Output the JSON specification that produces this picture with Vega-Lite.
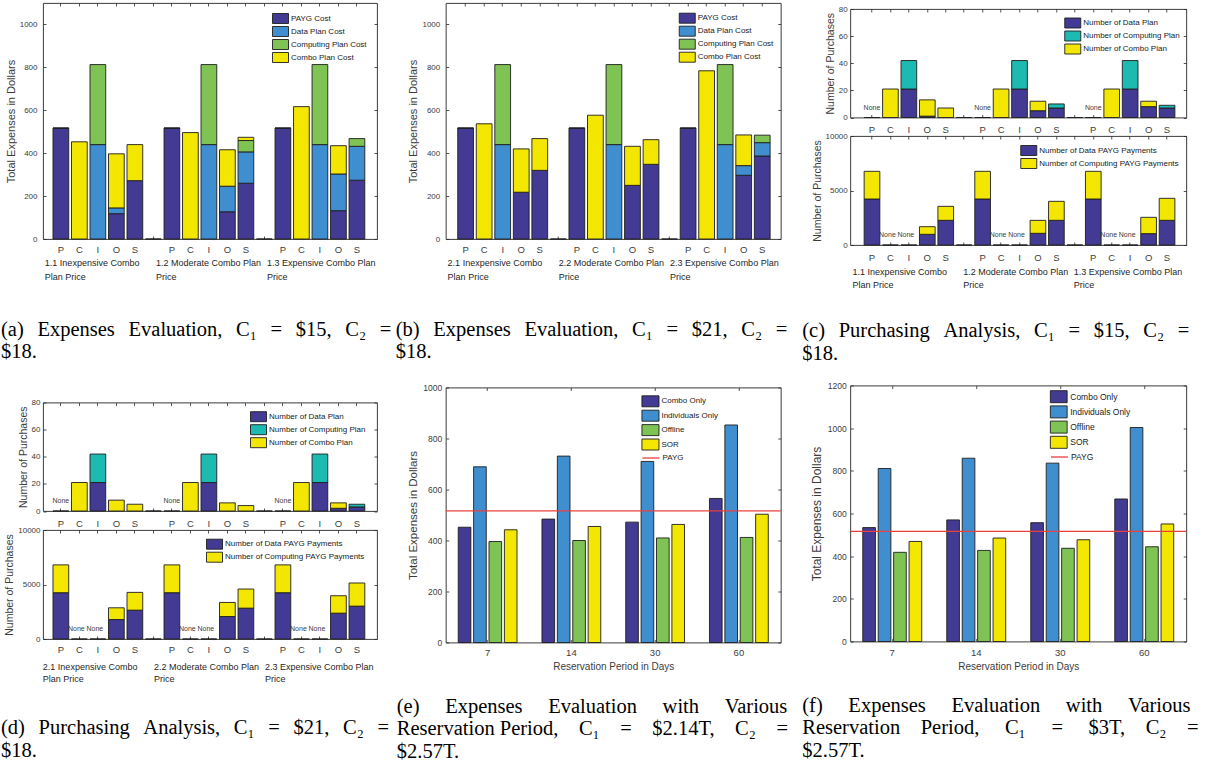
{
  "padding": {"left": 0, "top": 2, "right": 0, "bottom": 0},
  "autosize": "pad",
  "spacing": 12.25,
  "resolve": {"scale": {"color": "independent", "stroke": "independent", "xOffset": "independent"}},
  "datasets": {
    "a": [
      {"slot":"1.1 P","seg":"PAYG Cost","v":517},{"slot":"1.1 P","seg":"Combo Plan Cost","v":0},
      {"slot":"1.1 C","seg":"Combo Plan Cost","v":453},
      {"slot":"1.1 I","seg":"Data Plan Cost","v":440},{"slot":"1.1 I","seg":"Computing Plan Cost","v":373},
      {"slot":"1.1 O","seg":"PAYG Cost","v":118},{"slot":"1.1 O","seg":"Data Plan Cost","v":27},{"slot":"1.1 O","seg":"Combo Plan Cost","v":252},
      {"slot":"1.1 S","seg":"PAYG Cost","v":272},{"slot":"1.1 S","seg":"Combo Plan Cost","v":168},
      {"slot":"g1","seg":"PAYG Cost","v":0},
      {"slot":"1.2 P","seg":"PAYG Cost","v":517},{"slot":"1.2 P","seg":"Combo Plan Cost","v":0},
      {"slot":"1.2 C","seg":"Combo Plan Cost","v":496},
      {"slot":"1.2 I","seg":"Data Plan Cost","v":440},{"slot":"1.2 I","seg":"Computing Plan Cost","v":373},
      {"slot":"1.2 O","seg":"PAYG Cost","v":127},{"slot":"1.2 O","seg":"Data Plan Cost","v":119},{"slot":"1.2 O","seg":"Combo Plan Cost","v":170},
      {"slot":"1.2 S","seg":"PAYG Cost","v":260},{"slot":"1.2 S","seg":"Data Plan Cost","v":146},{"slot":"1.2 S","seg":"Computing Plan Cost","v":53},{"slot":"1.2 S","seg":"Combo Plan Cost","v":15},
      {"slot":"g2","seg":"PAYG Cost","v":0},
      {"slot":"1.3 P","seg":"PAYG Cost","v":517},{"slot":"1.3 P","seg":"Combo Plan Cost","v":0},
      {"slot":"1.3 C","seg":"Combo Plan Cost","v":617},
      {"slot":"1.3 I","seg":"Data Plan Cost","v":440},{"slot":"1.3 I","seg":"Computing Plan Cost","v":373},
      {"slot":"1.3 O","seg":"PAYG Cost","v":132},{"slot":"1.3 O","seg":"Data Plan Cost","v":171},{"slot":"1.3 O","seg":"Combo Plan Cost","v":132},
      {"slot":"1.3 S","seg":"PAYG Cost","v":274},{"slot":"1.3 S","seg":"Data Plan Cost","v":158},{"slot":"1.3 S","seg":"Computing Plan Cost","v":36}
    ],
    "b": [
      {"slot":"2.1 P","seg":"PAYG Cost","v":517},{"slot":"2.1 P","seg":"Combo Plan Cost","v":0},
      {"slot":"2.1 C","seg":"Combo Plan Cost","v":537},
      {"slot":"2.1 I","seg":"Data Plan Cost","v":440},{"slot":"2.1 I","seg":"Computing Plan Cost","v":373},
      {"slot":"2.1 O","seg":"PAYG Cost","v":218},{"slot":"2.1 O","seg":"Combo Plan Cost","v":202},
      {"slot":"2.1 S","seg":"PAYG Cost","v":320},{"slot":"2.1 S","seg":"Combo Plan Cost","v":148},
      {"slot":"g1","seg":"PAYG Cost","v":0},
      {"slot":"2.2 P","seg":"PAYG Cost","v":517},{"slot":"2.2 P","seg":"Combo Plan Cost","v":0},
      {"slot":"2.2 C","seg":"Combo Plan Cost","v":577},
      {"slot":"2.2 I","seg":"Data Plan Cost","v":440},{"slot":"2.2 I","seg":"Computing Plan Cost","v":373},
      {"slot":"2.2 O","seg":"PAYG Cost","v":250},{"slot":"2.2 O","seg":"Combo Plan Cost","v":182},
      {"slot":"2.2 S","seg":"PAYG Cost","v":348},{"slot":"2.2 S","seg":"Combo Plan Cost","v":115},
      {"slot":"g2","seg":"PAYG Cost","v":0},
      {"slot":"2.3 P","seg":"PAYG Cost","v":517},{"slot":"2.3 P","seg":"Combo Plan Cost","v":0},
      {"slot":"2.3 C","seg":"Combo Plan Cost","v":784},
      {"slot":"2.3 I","seg":"Data Plan Cost","v":440},{"slot":"2.3 I","seg":"Computing Plan Cost","v":373},
      {"slot":"2.3 O","seg":"PAYG Cost","v":297},{"slot":"2.3 O","seg":"Data Plan Cost","v":45},{"slot":"2.3 O","seg":"Combo Plan Cost","v":143},
      {"slot":"2.3 S","seg":"PAYG Cost","v":387},{"slot":"2.3 S","seg":"Data Plan Cost","v":62},{"slot":"2.3 S","seg":"Computing Plan Cost","v":35}
    ],
    "cTop": [
      {"slot":"1.1 P","seg":"Number of Data Plan","v":0},
      {"slot":"1.1 C","seg":"Number of Combo Plan","v":21},
      {"slot":"1.1 I","seg":"Number of Data Plan","v":21},{"slot":"1.1 I","seg":"Number of Computing Plan","v":21},
      {"slot":"1.1 O","seg":"Number of Data Plan","v":1},{"slot":"1.1 O","seg":"Number of Combo Plan","v":12},
      {"slot":"1.1 S","seg":"Number of Combo Plan","v":7},
      {"slot":"g1","seg":"Number of Data Plan","v":0},
      {"slot":"1.2 P","seg":"Number of Data Plan","v":0},
      {"slot":"1.2 C","seg":"Number of Combo Plan","v":21},
      {"slot":"1.2 I","seg":"Number of Data Plan","v":21},{"slot":"1.2 I","seg":"Number of Computing Plan","v":21},
      {"slot":"1.2 O","seg":"Number of Data Plan","v":5},{"slot":"1.2 O","seg":"Number of Combo Plan","v":7},
      {"slot":"1.2 S","seg":"Number of Data Plan","v":7},{"slot":"1.2 S","seg":"Number of Computing Plan","v":3},
      {"slot":"g2","seg":"Number of Data Plan","v":0},
      {"slot":"1.3 P","seg":"Number of Data Plan","v":0},
      {"slot":"1.3 C","seg":"Number of Combo Plan","v":21},
      {"slot":"1.3 I","seg":"Number of Data Plan","v":21},{"slot":"1.3 I","seg":"Number of Computing Plan","v":21},
      {"slot":"1.3 O","seg":"Number of Data Plan","v":8},{"slot":"1.3 O","seg":"Number of Combo Plan","v":4},
      {"slot":"1.3 S","seg":"Number of Data Plan","v":7},{"slot":"1.3 S","seg":"Number of Computing Plan","v":2}
    ],
    "cBot": [
      {"slot":"1.1 P","seg":"Number of Data PAYG Payments","v":4220},{"slot":"1.1 P","seg":"Number of Computing PAYG Payments","v":2540},
      {"slot":"1.1 C","seg":"Number of Data PAYG Payments","v":0},
      {"slot":"1.1 I","seg":"Number of Data PAYG Payments","v":0},
      {"slot":"1.1 O","seg":"Number of Data PAYG Payments","v":980},{"slot":"1.1 O","seg":"Number of Computing PAYG Payments","v":700},
      {"slot":"1.1 S","seg":"Number of Data PAYG Payments","v":2263},{"slot":"1.1 S","seg":"Number of Computing PAYG Payments","v":1284},
      {"slot":"g1","seg":"Number of Data PAYG Payments","v":0},
      {"slot":"1.2 P","seg":"Number of Data PAYG Payments","v":4220},{"slot":"1.2 P","seg":"Number of Computing PAYG Payments","v":2540},
      {"slot":"1.2 C","seg":"Number of Data PAYG Payments","v":0},
      {"slot":"1.2 I","seg":"Number of Data PAYG Payments","v":0},
      {"slot":"1.2 O","seg":"Number of Data PAYG Payments","v":1070},{"slot":"1.2 O","seg":"Number of Computing PAYG Payments","v":1190},
      {"slot":"1.2 S","seg":"Number of Data PAYG Payments","v":2263},{"slot":"1.2 S","seg":"Number of Computing PAYG Payments","v":1743},
      {"slot":"g2","seg":"Number of Data PAYG Payments","v":0},
      {"slot":"1.3 P","seg":"Number of Data PAYG Payments","v":4220},{"slot":"1.3 P","seg":"Number of Computing PAYG Payments","v":2540},
      {"slot":"1.3 C","seg":"Number of Data PAYG Payments","v":0},
      {"slot":"1.3 I","seg":"Number of Data PAYG Payments","v":0},
      {"slot":"1.3 O","seg":"Number of Data PAYG Payments","v":1040},{"slot":"1.3 O","seg":"Number of Computing PAYG Payments","v":1500},
      {"slot":"1.3 S","seg":"Number of Data PAYG Payments","v":2263},{"slot":"1.3 S","seg":"Number of Computing PAYG Payments","v":2018}
    ],
    "dTop": [
      {"slot":"2.1 P","seg":"Number of Data Plan","v":0},
      {"slot":"2.1 C","seg":"Number of Combo Plan","v":21},
      {"slot":"2.1 I","seg":"Number of Data Plan","v":21},{"slot":"2.1 I","seg":"Number of Computing Plan","v":21},
      {"slot":"2.1 O","seg":"Number of Combo Plan","v":8},
      {"slot":"2.1 S","seg":"Number of Combo Plan","v":5},
      {"slot":"g1","seg":"Number of Data Plan","v":0},
      {"slot":"2.2 P","seg":"Number of Data Plan","v":0},
      {"slot":"2.2 C","seg":"Number of Combo Plan","v":21},
      {"slot":"2.2 I","seg":"Number of Data Plan","v":21},{"slot":"2.2 I","seg":"Number of Computing Plan","v":21},
      {"slot":"2.2 O","seg":"Number of Combo Plan","v":6},
      {"slot":"2.2 S","seg":"Number of Combo Plan","v":4},
      {"slot":"g2","seg":"Number of Data Plan","v":0},
      {"slot":"2.3 P","seg":"Number of Data Plan","v":0},
      {"slot":"2.3 C","seg":"Number of Combo Plan","v":21},
      {"slot":"2.3 I","seg":"Number of Data Plan","v":21},{"slot":"2.3 I","seg":"Number of Computing Plan","v":21},
      {"slot":"2.3 O","seg":"Number of Data Plan","v":2},{"slot":"2.3 O","seg":"Number of Combo Plan","v":4},
      {"slot":"2.3 S","seg":"Number of Data Plan","v":3},{"slot":"2.3 S","seg":"Number of Computing Plan","v":2}
    ],
    "dBot": [
      {"slot":"2.1 P","seg":"Number of Data PAYG Payments","v":4246},{"slot":"2.1 P","seg":"Number of Computing PAYG Payments","v":2554},
      {"slot":"2.1 C","seg":"Number of Data PAYG Payments","v":0},
      {"slot":"2.1 I","seg":"Number of Data PAYG Payments","v":0},
      {"slot":"2.1 O","seg":"Number of Data PAYG Payments","v":1785},{"slot":"2.1 O","seg":"Number of Computing PAYG Payments","v":1077},
      {"slot":"2.1 S","seg":"Number of Data PAYG Payments","v":2646},{"slot":"2.1 S","seg":"Number of Computing PAYG Payments","v":1631},
      {"slot":"g1","seg":"Number of Data PAYG Payments","v":0},
      {"slot":"2.2 P","seg":"Number of Data PAYG Payments","v":4246},{"slot":"2.2 P","seg":"Number of Computing PAYG Payments","v":2554},
      {"slot":"2.2 C","seg":"Number of Data PAYG Payments","v":0},
      {"slot":"2.2 I","seg":"Number of Data PAYG Payments","v":0},
      {"slot":"2.2 O","seg":"Number of Data PAYG Payments","v":2062},{"slot":"2.2 O","seg":"Number of Computing PAYG Payments","v":1292},
      {"slot":"2.2 S","seg":"Number of Data PAYG Payments","v":2831},{"slot":"2.2 S","seg":"Number of Computing PAYG Payments","v":1754},
      {"slot":"g2","seg":"Number of Data PAYG Payments","v":0},
      {"slot":"2.3 P","seg":"Number of Data PAYG Payments","v":4246},{"slot":"2.3 P","seg":"Number of Computing PAYG Payments","v":2554},
      {"slot":"2.3 C","seg":"Number of Data PAYG Payments","v":0},
      {"slot":"2.3 I","seg":"Number of Data PAYG Payments","v":0},
      {"slot":"2.3 O","seg":"Number of Data PAYG Payments","v":2369},{"slot":"2.3 O","seg":"Number of Computing PAYG Payments","v":1600},
      {"slot":"2.3 S","seg":"Number of Data PAYG Payments","v":3015},{"slot":"2.3 S","seg":"Number of Computing PAYG Payments","v":2123}
    ],
    "cNoneTop": [{"slot":"1.1 P","txt":"None"},{"slot":"1.2 P","txt":"None"},{"slot":"1.3 P","txt":"None"}],
    "cNoneBot": [{"slot":"1.1 C","txt":"None"},{"slot":"1.1 I","txt":"None"},{"slot":"1.2 C","txt":"None"},{"slot":"1.2 I","txt":"None"},{"slot":"1.3 C","txt":"None"},{"slot":"1.3 I","txt":"None"}],
    "dNoneTop": [{"slot":"2.1 P","txt":"None"},{"slot":"2.2 P","txt":"None"},{"slot":"2.3 P","txt":"None"}],
    "dNoneBot": [{"slot":"2.1 C","txt":"None"},{"slot":"2.1 I","txt":"None"},{"slot":"2.2 C","txt":"None"},{"slot":"2.2 I","txt":"None"},{"slot":"2.3 C","txt":"None"},{"slot":"2.3 I","txt":"None"}],
    "e": [
      {"days":"7","series":"Combo Only","v":452},{"days":"7","series":"Individuals Only","v":689},{"days":"7","series":"Offline","v":396},{"days":"7","series":"SOR","v":442},
      {"days":"14","series":"Combo Only","v":484},{"days":"14","series":"Individuals Only","v":731},{"days":"14","series":"Offline","v":400},{"days":"14","series":"SOR","v":455},
      {"days":"30","series":"Combo Only","v":472},{"days":"30","series":"Individuals Only","v":710},{"days":"30","series":"Offline","v":410},{"days":"30","series":"SOR","v":463},
      {"days":"60","series":"Combo Only","v":565},{"days":"60","series":"Individuals Only","v":853},{"days":"60","series":"Offline","v":412},{"days":"60","series":"SOR","v":503}
    ],
    "paygE": [{"series":"PAYG","v":516}],
    "f": [
      {"days":"7","series":"Combo Only","v":534},{"days":"7","series":"Individuals Only","v":811},{"days":"7","series":"Offline","v":418},{"days":"7","series":"SOR","v":469},
      {"days":"14","series":"Combo Only","v":570},{"days":"14","series":"Individuals Only","v":859},{"days":"14","series":"Offline","v":427},{"days":"14","series":"SOR","v":485},
      {"days":"30","series":"Combo Only","v":557},{"days":"30","series":"Individuals Only","v":836},{"days":"30","series":"Offline","v":437},{"days":"30","series":"SOR","v":477},
      {"days":"60","series":"Combo Only","v":668},{"days":"60","series":"Individuals Only","v":1003},{"days":"60","series":"Offline","v":444},{"days":"60","series":"SOR","v":551}
    ],
    "paygF": [{"series":"PAYG","v":516}]
  },
  "hconcat": [
    {
      "spacing": 2.75,
      "resolve": {"scale": {"color": "independent", "stroke": "independent", "xOffset": "independent"}},
      "hconcat": [
        {
          "spacing": 33.5,
          "resolve": {"scale": {"color": "independent", "stroke": "independent", "xOffset": "independent"}},
          "vconcat": [
            {
              "width": 334, "height": 236,
              "data": {"name": "a"},
              "title": {"text": ["(a)\u2002\u2006Expenses\u2002\u2006Evaluation,\u2002\u2006C₁\u2002\u2006=\u2002\u2006$15,\u2002\u2006C₂\u2002\u2006=", "$18."], "dx": -42, "offset": 38.5},
              "layer": [
                {"mark": {"type": "bar"},
                 "encoding": {
                   "x": {"field": "slot", "type": "nominal", "scale": {"domain": ["1.1 P","1.1 C","1.1 I","1.1 O","1.1 S","g1","1.2 P","1.2 C","1.2 I","1.2 O","1.2 S","g2","1.3 P","1.3 C","1.3 I","1.3 O","1.3 S"], "paddingInner": 0.15, "paddingOuter": 0.6, "align": 0.45},
                         "axis": {"orient": "bottom", "title": null, "labelExpr": "substring(datum.value, 4)", "labelFontSize": 9.5, "labelPadding": 8.9, "tickSize": -3, "labelAngle": 0}},
                   "y": {"field": "v", "type": "quantitative", "scale": {"domain": [0, 1100], "nice": false},
                         "axis": {"title": "Total Expenses in Dollars", "format": "d", "values": [0,200,400,600,800,1000], "tickSize": -3, "labelPadding": 9, "titlePadding": 3, "titleFontSize": 11}},
                   "color": {"field": "seg", "type": "nominal", "scale": {"domain": ["PAYG Cost","Data Plan Cost","Computing Plan Cost","Combo Plan Cost"], "range": ["#433a93","#3f8fd0","#7fc355","#f3e600"]},
                         "legend": {"title": null, "legendX": 232, "legendY": 10, "rowPadding": -2.6, "symbolType": "M-1.6,-1L1.6,-1L1.6,1L-1.6,1Z", "symbolSize": 100, "labelOffset": 5, "symbolStrokeColor": "#1e1e1e"}},
                   "order": {"field": "seg", "sort": "descending"}
                 }},
                {"mark": {"type": "bar", "opacity": 0},
                 "encoding": {
                   "x": {"field": "slot", "type": "nominal", "axis": {"orient": "top", "title": null, "labels": false, "tickSize": -3}},
                   "y": {"field": "v", "type": "quantitative", "axis": {"orient": "right", "title": null, "labels": false, "tickSize": -3, "values": [0,200,400,600,800,1000]}}
                 }},
                {"mark": {"type": "bar", "opacity": 0},
                 "encoding": {
                   "x": {"field": "slot", "type": "nominal", "axis": {"orient": "bottom", "title": null, "ticks": false, "values": ["1.1 P","1.2 P","1.3 P"], "labelExpr": "datum.value == '1.1 P' ? ['1.1 Inexpensive Combo', 'Plan Price'] : datum.value == '1.2 P' ? ['1.2 Moderate Combo Plan', 'Price'] : ['1.3 Expensive Combo Plan', 'Price']", "labelAlign": "left", "labelBaseline": "top", "labelOffset": -16, "labelPadding": 19.8, "labelFontSize": 9, "labelLineHeight": 13.3, "labelAngle": 0, "labelColor": "#262626"}},
                   "y": {"field": "v", "type": "quantitative", "axis": null}
                 }}
              ],
              "resolve": {"axis": {"x": "independent", "y": "independent"}}
            },
            {
              "bounds": "flush",
              "spacing": 18.5,
              "resolve": {"scale": {"color": "independent"}},
              "title": {"text": ["", "(d)\u2002\u2006Purchasing\u2002\u2006Analysis,\u2002\u2006C₁\u2002\u2006=\u2002\u2006$21,\u2002\u2006C₂\u2002\u2006=", "$18."], "dx": -42, "offset": 12},
              "vconcat": [
                {
                  "width": 334, "height": 108.5,
                  "layer": [
                    {"data": {"name": "dTop"}, "mark": {"type": "bar"},
                     "encoding": {
                       "x": {"field": "slot", "type": "nominal", "scale": {"domain": ["2.1 P","2.1 C","2.1 I","2.1 O","2.1 S","g1","2.2 P","2.2 C","2.2 I","2.2 O","2.2 S","g2","2.3 P","2.3 C","2.3 I","2.3 O","2.3 S"], "paddingInner": 0.15, "paddingOuter": 0.6, "align": 0.45},
                             "axis": {"orient": "bottom", "title": null, "labelExpr": "substring(datum.value, 4)", "labelFontSize": 9.5, "labelPadding": 10, "tickSize": -3, "labelAngle": 0}},
                       "y": {"field": "v", "type": "quantitative", "scale": {"domain": [0, 80], "nice": false},
                             "axis": {"title": "Number of Purchases", "format": "d", "values": [0,20,40,60,80], "tickSize": -3, "labelPadding": 6, "titlePadding": 3, "titleFontSize": 10.5}},
                       "color": {"field": "seg", "type": "nominal", "scale": {"domain": ["Number of Data Plan","Number of Computing Plan","Number of Combo Plan"], "range": ["#433a93","#1cbab0","#f3e600"]},
                             "legend": {"title": null, "legendX": 210, "legendY": 8.7, "rowPadding": -2, "symbolType": "M-1.6,-1L1.6,-1L1.6,1L-1.6,1Z", "symbolSize": 100, "labelOffset": 5, "symbolStrokeColor": "#1e1e1e"}},
                       "order": {"field": "seg", "sort": "descending"}
                     }},
                    {"data": {"name": "dTop"}, "mark": {"type": "bar", "opacity": 0},
                     "encoding": {
                       "x": {"field": "slot", "type": "nominal", "axis": {"orient": "top", "title": null, "labels": false, "tickSize": -3}},
                       "y": {"field": "v", "type": "quantitative", "axis": {"orient": "right", "title": null, "labels": false, "tickSize": -3, "values": [0,20,40,60,80]}}
                     }},
                    {"data": {"name": "dNoneTop"}, "mark": {"type": "text", "fontSize": 7, "dy": -10, "color": "#3c3c3c"},
                     "encoding": {
                       "x": {"field": "slot", "type": "nominal", "axis": null},
                       "y": {"datum": 0, "type": "quantitative", "axis": null},
                       "text": {"field": "txt"}
                     }}
                  ],
                  "resolve": {"axis": {"x": "independent", "y": "independent"}}
                },
                {
                  "width": 334, "height": 109,
                  "layer": [
                    {"data": {"name": "dBot"}, "mark": {"type": "bar"},
                     "encoding": {
                       "x": {"field": "slot", "type": "nominal", "scale": {"domain": ["2.1 P","2.1 C","2.1 I","2.1 O","2.1 S","g1","2.2 P","2.2 C","2.2 I","2.2 O","2.2 S","g2","2.3 P","2.3 C","2.3 I","2.3 O","2.3 S"], "paddingInner": 0.15, "paddingOuter": 0.6, "align": 0.45},
                             "axis": {"orient": "bottom", "title": null, "labelExpr": "substring(datum.value, 4)", "labelFontSize": 9.5, "labelPadding": 8.9, "tickSize": -3, "labelAngle": 0}},
                       "y": {"field": "v", "type": "quantitative", "scale": {"domain": [0, 10000], "nice": false},
                             "axis": {"title": "Number of Purchases", "format": "d", "values": [0,5000,10000], "tickSize": -3, "labelPadding": 6, "titlePadding": 3, "titleFontSize": 10.5}},
                       "color": {"field": "seg", "type": "nominal", "scale": {"domain": ["Number of Data PAYG Payments","Number of Computing PAYG Payments"], "range": ["#433a93","#f3e600"]},
                             "legend": {"title": null, "legendX": 166, "legendY": 8.7, "rowPadding": -2, "symbolType": "M-1.6,-1L1.6,-1L1.6,1L-1.6,1Z", "symbolSize": 100, "labelOffset": 5, "symbolStrokeColor": "#1e1e1e"}},
                       "order": {"field": "seg", "sort": "descending"}
                     }},
                    {"data": {"name": "dBot"}, "mark": {"type": "bar", "opacity": 0},
                     "encoding": {
                       "x": {"field": "slot", "type": "nominal", "axis": {"orient": "top", "title": null, "labels": false, "tickSize": -3}},
                       "y": {"field": "v", "type": "quantitative", "axis": {"orient": "right", "title": null, "labels": false, "tickSize": -3, "values": [0,5000,10000]}}
                     }},
                    {"data": {"name": "dNoneBot"}, "mark": {"type": "text", "fontSize": 7, "dy": -10, "dx": -3, "color": "#3c3c3c"},
                     "encoding": {
                       "x": {"field": "slot", "type": "nominal", "axis": {"orient": "bottom", "title": null, "ticks": false, "values": ["2.1 P","2.2 P","2.3 P"], "labelExpr": "datum.value == '2.1 P' ? ['2.1 Inexpensive Combo', 'Plan Price'] : datum.value == '2.2 P' ? ['2.2 Moderate Combo Plan', 'Price'] : ['2.3 Expensive Combo Plan', 'Price']", "labelAlign": "left", "labelBaseline": "top", "labelOffset": -18, "labelPadding": 23, "labelFontSize": 9, "labelLineHeight": 12.5, "labelAngle": 0, "labelColor": "#262626"}},
                       "y": {"datum": 0, "type": "quantitative", "axis": null},
                       "text": {"field": "txt"}
                     }}
                  ],
                  "resolve": {"axis": {"x": "independent", "y": "independent"}}
                }
              ]
            }
          ]
        },
        {
          "spacing": 18.5,
          "resolve": {"scale": {"color": "independent", "stroke": "independent", "xOffset": "independent"}},
          "vconcat": [
            {
              "width": 335, "height": 236,
              "data": {"name": "b"},
              "title": {"text": ["(b)\u2002\u2006Expenses\u2002\u2006Evaluation,\u2002\u2006C₁\u2002\u2006=\u2002\u2006$21,\u2002\u2006C₂\u2002\u2006=", "$18."], "dx": -50, "offset": 38.5},
              "layer": [
                {"mark": {"type": "bar"},
                 "encoding": {
                   "x": {"field": "slot", "type": "nominal", "scale": {"domain": ["2.1 P","2.1 C","2.1 I","2.1 O","2.1 S","g1","2.2 P","2.2 C","2.2 I","2.2 O","2.2 S","g2","2.3 P","2.3 C","2.3 I","2.3 O","2.3 S"], "paddingInner": 0.15, "paddingOuter": 0.61, "align": 0.53},
                         "axis": {"orient": "bottom", "title": null, "labelExpr": "substring(datum.value, 4)", "labelFontSize": 9.5, "labelPadding": 8.9, "tickSize": -3, "labelAngle": 0}},
                   "y": {"field": "v", "type": "quantitative", "scale": {"domain": [0, 1100], "nice": false},
                         "axis": {"title": "Total Expenses in Dollars", "format": "d", "values": [0,200,400,600,800,1000], "tickSize": -3, "labelPadding": 9, "titlePadding": 3, "titleFontSize": 11}},
                   "color": {"field": "seg", "type": "nominal", "scale": {"domain": ["PAYG Cost","Data Plan Cost","Computing Plan Cost","Combo Plan Cost"], "range": ["#433a93","#3f8fd0","#7fc355","#f3e600"]},
                         "legend": {"title": null, "legendX": 236, "legendY": 9.7, "rowPadding": -2.6, "symbolType": "M-1.6,-1L1.6,-1L1.6,1L-1.6,1Z", "symbolSize": 100, "labelOffset": 5, "symbolStrokeColor": "#1e1e1e"}},
                   "order": {"field": "seg", "sort": "descending"}
                 }},
                {"mark": {"type": "bar", "opacity": 0},
                 "encoding": {
                   "x": {"field": "slot", "type": "nominal", "axis": {"orient": "top", "title": null, "labels": false, "tickSize": -3}},
                   "y": {"field": "v", "type": "quantitative", "axis": {"orient": "right", "title": null, "labels": false, "tickSize": -3, "values": [0,200,400,600,800,1000]}}
                 }},
                {"mark": {"type": "bar", "opacity": 0},
                 "encoding": {
                   "x": {"field": "slot", "type": "nominal", "axis": {"orient": "bottom", "title": null, "ticks": false, "values": ["2.1 P","2.2 P","2.3 P"], "labelExpr": "datum.value == '2.1 P' ? ['2.1 Inexpensive Combo', 'Plan Price'] : datum.value == '2.2 P' ? ['2.2 Moderate Combo Plan', 'Price'] : ['2.3 Expensive Combo Plan', 'Price']", "labelAlign": "left", "labelBaseline": "top", "labelOffset": -18, "labelPadding": 19.8, "labelFontSize": 9, "labelLineHeight": 13.3, "labelAngle": 0, "labelColor": "#262626"}},
                   "y": {"field": "v", "type": "quantitative", "axis": null}
                 }}
              ],
              "resolve": {"axis": {"x": "independent", "y": "independent"}}
            },
            {
              "width": 335, "height": 255,
              "title": {"text": ["(e) \u2003Expenses \u2003Evaluation \u2003with \u2003Various", "Reservation Period,\u2003C₁\u2003=\u2003$2.14T,\u2003C₂\u2003=", "$2.57T."], "dx": -49, "offset": 25},
              "layer": [
                {"data": {"name": "e"}, "mark": {"type": "bar"},
                 "encoding": {
                   "x": {"field": "days", "type": "ordinal", "scale": {"domain": ["7","14","30","60"], "paddingInner": 0.265, "paddingOuter": 0.1325},
                         "axis": {"title": "Reservation Period in Days", "labelAngle": 0, "tickSize": -3, "labelPadding": 8, "labelFontSize": 9.5, "titleFontSize": 10, "titlePadding": 4.5}},
                   "xOffset": {"field": "series", "type": "nominal", "scale": {"domain": ["Combo Only","Individuals Only","Offline","SOR"], "paddingInner": 0.18, "paddingOuter": 0.09}},
                   "y": {"field": "v", "type": "quantitative", "scale": {"domain": [0, 1000], "nice": false},
                         "axis": {"title": "Total Expenses in Dollars", "format": "d", "values": [0,200,400,600,800,1000], "tickSize": -3, "labelPadding": 7, "labelFontSize": 8.5, "titleFontSize": 11.5, "titlePadding": 4}},
                   "color": {"field": "series", "type": "nominal", "scale": {"domain": ["Combo Only","Individuals Only","Offline","SOR"], "range": ["#433a93","#3f8fd0","#7fc355","#f3e600"]},
                         "legend": {"title": null, "legendX": 198.7, "legendY": 7.8, "symbolType": "M-1.55,-1L1.55,-1L1.55,1L-1.55,1Z", "symbolSize": 121, "labelOffset": 5, "rowPadding": -1.6, "symbolStrokeColor": "#1e1e1e"}}
                 }},
                {"data": {"name": "e"}, "mark": {"type": "bar", "opacity": 0},
                 "encoding": {
                   "x": {"field": "days", "type": "ordinal", "axis": {"orient": "top", "title": null, "labels": false, "tickSize": -3}},
                   "xOffset": {"field": "series", "type": "nominal"},
                   "y": {"field": "v", "type": "quantitative", "axis": {"orient": "right", "title": null, "labels": false, "tickSize": -3, "values": [0,200,400,600,800,1000]}}
                 }},
                {"data": {"name": "paygE"}, "mark": {"type": "rule", "strokeWidth": 1.3},
                 "encoding": {
                   "y": {"field": "v", "type": "quantitative", "axis": null},
                   "stroke": {"field": "series", "type": "nominal", "scale": {"domain": ["PAYG"], "range": ["#e8403f"]},
                              "legend": {"title": null, "legendX": 195.7, "legendY": 61, "symbolType": "stroke", "symbolSize": 289, "symbolStrokeWidth": 1.3, "labelOffset": 2}}
                 }}
              ],
              "resolve": {"axis": {"x": "independent", "y": "independent"}}
            }
          ]
        }
      ]
    },
    {
      "spacing": 15.5,
      "resolve": {"scale": {"color": "independent", "stroke": "independent", "xOffset": "independent"}},
      "vconcat": [
        {
          "spacing": 0,
          "resolve": {"scale": {"color": "independent"}},
          "vconcat": [
            {"width": 336, "height": 1, "data": {"values": []}, "mark": {"type": "point", "opacity": 0}, "view": {"stroke": null}},
            {
              "bounds": "flush",
              "spacing": 18,
              "resolve": {"scale": {"color": "independent"}},
              "title": {"text": ["(c)\u2002\u2006Purchasing\u2002\u2006Analysis,\u2002\u2006C₁\u2002\u2006=\u2002\u2006$15,\u2002\u2006C₂\u2002\u2006=", "$18."], "dx": -48, "offset": 32},
              "vconcat": [
                {
                  "width": 336, "height": 108.5,
                  "layer": [
                    {"data": {"name": "cTop"}, "mark": {"type": "bar"},
                     "encoding": {
                       "x": {"field": "slot", "type": "nominal", "scale": {"domain": ["1.1 P","1.1 C","1.1 I","1.1 O","1.1 S","g1","1.2 P","1.2 C","1.2 I","1.2 O","1.2 S","g2","1.3 P","1.3 C","1.3 I","1.3 O","1.3 S"], "paddingInner": 0.15, "paddingOuter": 0.685, "align": 0.55},
                             "axis": {"orient": "bottom", "title": null, "labelExpr": "substring(datum.value, 4)", "labelFontSize": 9.5, "labelPadding": 10, "tickSize": -3, "labelAngle": 0}},
                       "y": {"field": "v", "type": "quantitative", "scale": {"domain": [0, 80], "nice": false},
                             "axis": {"title": "Number of Purchases", "format": "d", "values": [0,20,40,60,80], "tickSize": -3, "labelPadding": 6, "titlePadding": 3, "titleFontSize": 10.5}},
                       "color": {"field": "seg", "type": "nominal", "scale": {"domain": ["Number of Data Plan","Number of Computing Plan","Number of Combo Plan"], "range": ["#433a93","#1cbab0","#f3e600"]},
                             "legend": {"title": null, "legendX": 217, "legendY": 8.5, "rowPadding": -2.8, "symbolType": "M-1.6,-1L1.6,-1L1.6,1L-1.6,1Z", "symbolSize": 100, "labelOffset": 5, "symbolStrokeColor": "#1e1e1e"}},
                       "order": {"field": "seg", "sort": "descending"}
                     }},
                    {"data": {"name": "cTop"}, "mark": {"type": "bar", "opacity": 0},
                     "encoding": {
                       "x": {"field": "slot", "type": "nominal", "axis": {"orient": "top", "title": null, "labels": false, "tickSize": -3}},
                       "y": {"field": "v", "type": "quantitative", "axis": {"orient": "right", "title": null, "labels": false, "tickSize": -3, "values": [0,20,40,60,80]}}
                     }},
                    {"data": {"name": "cNoneTop"}, "mark": {"type": "text", "fontSize": 7, "dy": -10, "color": "#3c3c3c"},
                     "encoding": {
                       "x": {"field": "slot", "type": "nominal", "axis": null},
                       "y": {"datum": 0, "type": "quantitative", "axis": null},
                       "text": {"field": "txt"}
                     }}
                  ],
                  "resolve": {"axis": {"x": "independent", "y": "independent"}}
                },
                {
                  "width": 336, "height": 109,
                  "layer": [
                    {"data": {"name": "cBot"}, "mark": {"type": "bar"},
                     "encoding": {
                       "x": {"field": "slot", "type": "nominal", "scale": {"domain": ["1.1 P","1.1 C","1.1 I","1.1 O","1.1 S","g1","1.2 P","1.2 C","1.2 I","1.2 O","1.2 S","g2","1.3 P","1.3 C","1.3 I","1.3 O","1.3 S"], "paddingInner": 0.15, "paddingOuter": 0.685, "align": 0.55},
                             "axis": {"orient": "bottom", "title": null, "labelExpr": "substring(datum.value, 4)", "labelFontSize": 9.5, "labelPadding": 10, "tickSize": -3, "labelAngle": 0}},
                       "y": {"field": "v", "type": "quantitative", "scale": {"domain": [0, 10000], "nice": false},
                             "axis": {"title": "Number of Purchases", "format": "d", "values": [0,5000,10000], "tickSize": -3, "labelPadding": 6, "titlePadding": 3, "titleFontSize": 10.5}},
                       "color": {"field": "seg", "type": "nominal", "scale": {"domain": ["Number of Data PAYG Payments","Number of Computing PAYG Payments"], "range": ["#433a93","#f3e600"]},
                             "legend": {"title": null, "legendX": 173, "legendY": 9, "rowPadding": -2.3, "symbolType": "M-1.6,-1L1.6,-1L1.6,1L-1.6,1Z", "symbolSize": 100, "labelOffset": 5, "symbolStrokeColor": "#1e1e1e"}},
                       "order": {"field": "seg", "sort": "descending"}
                     }},
                    {"data": {"name": "cBot"}, "mark": {"type": "bar", "opacity": 0},
                     "encoding": {
                       "x": {"field": "slot", "type": "nominal", "axis": {"orient": "top", "title": null, "labels": false, "tickSize": -3}},
                       "y": {"field": "v", "type": "quantitative", "axis": {"orient": "right", "title": null, "labels": false, "tickSize": -3, "values": [0,5000,10000]}}
                     }},
                    {"data": {"name": "cNoneBot"}, "mark": {"type": "text", "fontSize": 7, "dy": -10, "dx": -3, "color": "#3c3c3c"},
                     "encoding": {
                       "x": {"field": "slot", "type": "nominal", "axis": {"orient": "bottom", "title": null, "ticks": false, "values": ["1.1 P","1.2 P","1.3 P"], "labelExpr": "datum.value == '1.1 P' ? ['1.1 Inexpensive Combo', 'Plan Price'] : datum.value == '1.2 P' ? ['1.2 Moderate Combo Plan', 'Price'] : ['1.3 Expensive Combo Plan', 'Price']", "labelAlign": "left", "labelBaseline": "top", "labelOffset": -19.5, "labelPadding": 22, "labelFontSize": 9, "labelLineHeight": 13, "labelAngle": 0, "labelColor": "#262626"}},
                       "y": {"datum": 0, "type": "quantitative", "axis": null},
                       "text": {"field": "txt"}
                     }}
                  ],
                  "resolve": {"axis": {"x": "independent", "y": "independent"}}
                }
              ]
            }
          ]
        },
        {
          "width": 336, "height": 256,
          "title": {"text": ["(f) \u2003Expenses \u2003Evaluation \u2003with \u2003Various", "Reservation\u2003Period, \u2003C₁ \u2003= \u2003$3T,\u2003C₂\u2003=", "$2.57T."], "dx": -48, "offset": 24},
          "layer": [
            {"data": {"name": "f"}, "mark": {"type": "bar"},
             "encoding": {
               "x": {"field": "days", "type": "ordinal", "scale": {"domain": ["7","14","30","60"], "paddingInner": 0.265, "paddingOuter": 0.1325},
                     "axis": {"title": "Reservation Period in Days", "labelAngle": 0, "tickSize": -3, "labelPadding": 9, "labelFontSize": 9.5, "titleFontSize": 10, "titlePadding": 4.5}},
               "xOffset": {"field": "series", "type": "nominal", "scale": {"domain": ["Combo Only","Individuals Only","Offline","SOR"], "paddingInner": 0.18, "paddingOuter": 0.09}},
               "y": {"field": "v", "type": "quantitative", "scale": {"domain": [0, 1200], "nice": false},
                     "axis": {"title": "Total Expenses in Dollars", "format": "d", "values": [0,200,400,600,800,1000,1200], "tickSize": -3, "labelPadding": 7, "labelFontSize": 8.5, "titleFontSize": 12, "titlePadding": 4}},
               "color": {"field": "series", "type": "nominal", "scale": {"domain": ["Combo Only","Individuals Only","Offline","SOR"], "range": ["#433a93","#3f8fd0","#7fc355","#f3e600"]},
                     "legend": {"title": null, "legendX": 202, "legendY": 4.7, "symbolType": "M-1.4,-1L1.4,-1L1.4,1L-1.4,1Z", "symbolSize": 144, "labelOffset": 5, "rowPadding": -1.8, "labelFontSize": 8.5, "symbolStrokeColor": "#1e1e1e"}}
             }},
            {"data": {"name": "f"}, "mark": {"type": "bar", "opacity": 0},
             "encoding": {
               "x": {"field": "days", "type": "ordinal", "axis": {"orient": "top", "title": null, "labels": false, "tickSize": -3}},
               "xOffset": {"field": "series", "type": "nominal"},
               "y": {"field": "v", "type": "quantitative", "axis": {"orient": "right", "title": null, "labels": false, "tickSize": -3, "values": [0,200,400,600,800,1000,1200]}}
             }},
            {"data": {"name": "paygF"}, "mark": {"type": "rule", "strokeWidth": 1.3},
             "encoding": {
               "y": {"field": "v", "type": "quantitative", "axis": null},
               "stroke": {"field": "series", "type": "nominal", "scale": {"domain": ["PAYG"], "range": ["#e8403f"]},
                          "legend": {"title": null, "legendX": 199.7, "legendY": 62, "symbolType": "stroke", "symbolSize": 289, "symbolStrokeWidth": 1.3, "labelOffset": 2, "labelFontSize": 8.5}}
             }}
          ],
          "resolve": {"axis": {"x": "independent", "y": "independent"}}
        }
      ]
    }
  ],
  "config": {
    "font": "Liberation Sans",
    "view": {"stroke": "#262626", "strokeWidth": 0.9},
    "bar": {"stroke": "#1e1e1e", "strokeWidth": 0.9},
    "axis": {"grid": false, "domain": false, "labelFont": "Liberation Sans", "titleFont": "Liberation Sans", "labelColor": "#3c3c3c", "titleColor": "#3c3c3c", "tickColor": "#262626", "tickWidth": 0.8, "labelFontSize": 8, "titleFontSize": 11, "titleFontWeight": "normal"},
    "legend": {"labelFont": "Liberation Sans", "labelFontSize": 8, "labelColor": "#1a1a1a", "padding": 0, "rowPadding": 2.7, "symbolStrokeWidth": 1, "orient": "none", "direction": "vertical", "labelLimit": 300},
    "title": {"orient": "bottom", "anchor": "start", "frame": "group", "font": "Liberation Serif", "fontSize": 20.5, "fontWeight": "normal", "color": "#000000", "lineHeight": 22.5}
  }
}
